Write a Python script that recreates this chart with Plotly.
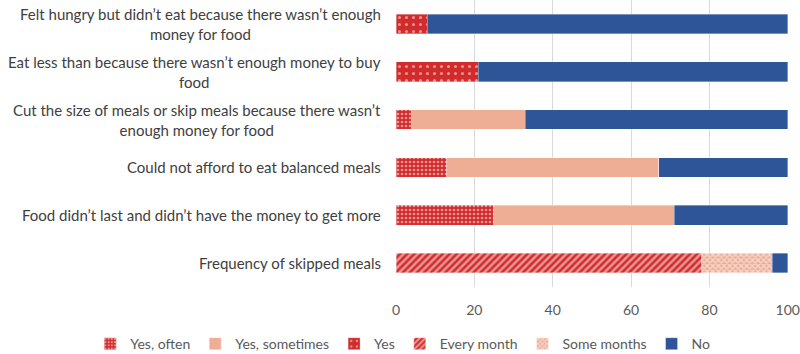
import plotly.graph_objects as go

categories = [
    "Felt hungry but didn’t eat because there wasn’t enough<br>money for food",
    "Eat less than because there wasn’t enough money to buy<br>food",
    "Cut the size of meals or skip meals because there wasn’t<br>enough money for food",
    "Could not afford to eat balanced meals",
    "Food didn’t last and didn’t have the money to get more",
    "Frequency of skipped meals",
]
yes_often = [None, None, 4, 13, 25, None]
yes_sometimes = [None, None, 29, 54, 46, None]
yes = [8, 21, None, None, None, None]
every_month = [None, None, None, None, None, 78]
some_months = [None, None, None, None, None, 18]
no = [92, 79, 67, 33, 29, 4]
x_ticks = [0, 20, 40, 60, 80, 100]

RED = "#D22B2B"
SALMON = "#EEAE96"
BLUE = "#2E5597"
FONT = "Lato, Liberation Sans, Arial, sans-serif"

fig = go.Figure()
line = dict(color="rgba(255,255,255,0.6)", width=0.6)

fig.add_bar(name="Yes, often", y=categories, x=yes_often, orientation="h",
            marker=dict(color=RED, line=line,
                        pattern=dict(shape=".", fgcolor="white", size=4, solidity=0.35, fillmode="overlay")))
fig.add_bar(name="Yes, sometimes", y=categories, x=yes_sometimes, orientation="h",
            marker=dict(color=SALMON, line=line))
fig.add_bar(name="Yes", y=categories, x=yes, orientation="h",
            marker=dict(color=RED, line=line,
                        pattern=dict(shape=".", fgcolor="white", size=7, solidity=0.15, fillmode="overlay")))
fig.add_bar(name="Every month", y=categories, x=every_month, orientation="h",
            marker=dict(color=RED, line=line,
                        pattern=dict(shape="/", fgcolor="white", size=5, solidity=0.5, fillmode="overlay")))
fig.add_bar(name="Some months", y=categories, x=some_months, orientation="h",
            marker=dict(color=SALMON, line=line,
                        pattern=dict(shape="x", fgcolor="white", size=4, solidity=0.55, fillmode="overlay")))
fig.add_bar(name="No", y=categories, x=no, orientation="h",
            marker=dict(color=BLUE, line=line))

for cat in categories:
    fig.add_annotation(text=cat, x=0, xref="paper", xshift=-13, xanchor="right",
                       y=cat, yref="y", yanchor="middle", align="center", showarrow=False,
                       font=dict(family=FONT, size=15, color="#404040"))

fig.update_layout(
    width=800, height=354,
    barmode="stack", bargap=0.59,
    paper_bgcolor="white", plot_bgcolor="white",
    margin=dict(l=396, r=12, t=0, b=67, autoexpand=False),
    font=dict(family=FONT, size=14, color="#404040"),
    showlegend=True,
    legend=dict(orientation="h", xref="paper", yref="paper",
                x=-0.78, xanchor="left", y=-0.199, yanchor="middle",
                font=dict(family=FONT, size=14, color="#595959"), itemwidth=30,
                traceorder="normal"),
)
fig.update_xaxes(range=[0, 100.05], tickvals=x_ticks, showgrid=True, gridcolor="#D9D9D9",
                 gridwidth=1, zeroline=False, showline=False,
                 ticks="outside", ticklen=10, tickcolor="rgba(0,0,0,0)",
                 tickfont=dict(family=FONT, size=14, color="#595959"), fixedrange=True)
fig.update_yaxes(categoryorder="array", categoryarray=categories, autorange="reversed",
                 showgrid=False, showticklabels=False, fixedrange=True)

fig.write_html("out.html", config={"displayModeBar": False},
               post_script="document.body.style.margin='0';")
